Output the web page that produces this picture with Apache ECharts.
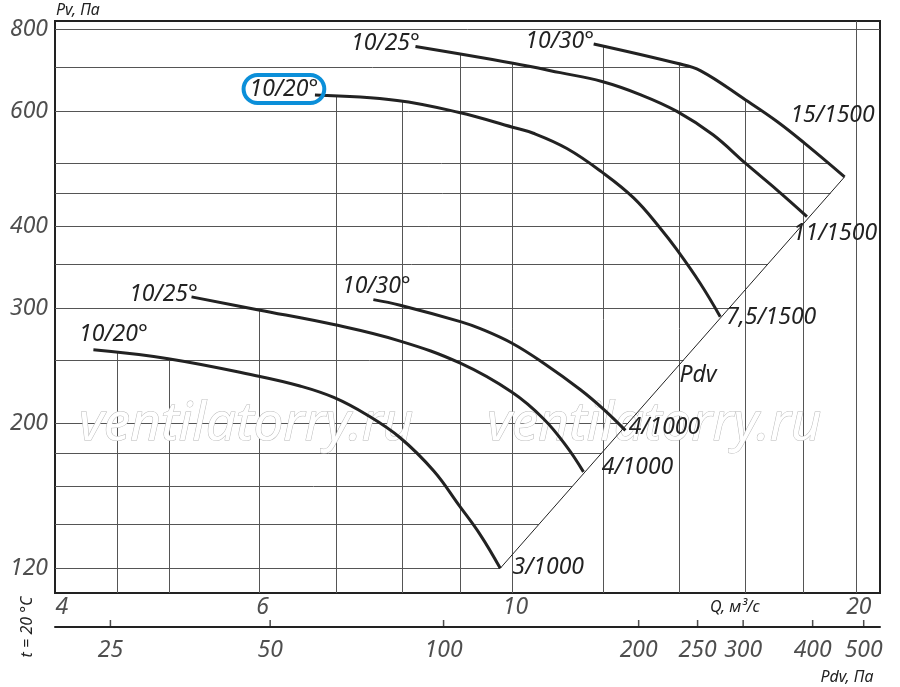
<!DOCTYPE html>
<html lang="ru">
<head>
    <meta charset="UTF-8">
    <title>Pv - Q</title>
    <script src="https://cdn.jsdelivr.net/npm/echarts@6/dist/echarts.min.js"></script>
    <style>
        html, body { margin: 0; padding: 0; background: #fff; }
        #chart { width: 900px; height: 687px; }
    </style>
</head>
<body>
<div id="chart"></div>
<script type="text/javascript">
    // пределы осей
    var qMin = 3.97, qMax = 21, pvMin = 110, pvMax = 824;

    // подписи осей и сетка
    var qTicks = [4, 6, 10, 20];
    var pvTicks = [120, 200, 300, 400, 600, 800];
    var qGrid = [4.5, 5, 6, 7, 8, 9, 10, 12, 14, 16, 18, 20];
    var pvGrid = [120, 140, 160, 180, 200, 250, 300, 350, 400, 450, 500, 600, 700, 800];

    // нижняя шкала Pdv, Па и место каждой отметки по Q
    var pdvTicks = [25, 50, 100, 200, 250, 300, 400, 500];
    var pdvTickQ = [4.44, 6.13, 8.70, 12.90, 14.53, 15.93, 18.33, 20.32];

    // верхние кривые (1500 об/мин)
    var qUp20 = [6.71, 7.92, 8.98, 10.0, 10.43, 11.16, 11.98, 12.77, 13.48, 13.94, 14.61, 15.21];
    var pvUp20 = [635, 623, 597, 567, 555, 526, 484, 442, 397, 368, 327, 291];
    var qUp25 = [8.22, 10.01, 11.01, 11.98, 12.94, 13.95, 14.99, 16.01, 17.07, 18.12];
    var pvUp25 = [753, 710, 687, 666, 636, 599, 552, 499, 454, 414];
    var qUp30 = [11.78, 13.94, 14.61, 16.01, 17.07, 18.03, 19.55];
    var pvUp30 = [760, 710, 692, 624, 578, 536, 476];

    // нижние кривые (1000 об/мин)
    var qLo20 = [4.29, 4.99, 5.99, 6.51, 6.97, 7.45, 7.97, 8.53, 8.97, 9.37, 9.755];
    var pvLo20 = [259, 251, 236, 228, 219, 206, 190, 169, 150, 135, 120];
    var qLo25 = [5.23, 5.99, 6.97, 7.97, 9.0, 9.99, 10.65, 11.16, 11.54];
    var pvLo25 = [312, 298, 283, 267, 247, 223, 203, 184, 168.5];
    var qLo30 = [7.55, 7.97, 9.0, 9.37, 9.99, 10.65, 11.47, 12.02, 12.56];
    var pvLo30 = [309, 303, 286, 279, 265, 247, 225, 210, 195];

    // линия Pdv
    var qPdv = [9.755, 19.55];
    var pvPdv = [120, 476];

    // подписи кривых
    var angleUp = ['10/20°', '10/25°', '10/30°'];
    var motorUp = ['7,5/1500', '11/1500', '15/1500'];
    var angleLo = ['10/20°', '10/25°', '10/30°'];
    var motorLo = ['3/1000', '4/1000', '4/1000'];

    var FONT = 'Noto Sans';
    var INK = '#222';

    function lg(v) {
        return Math.log(v) / Math.LN10;
    }

    // Pv на кривой при данном Q (интерполяция в логарифмах)
    function pvAt(qs, pvs, q) {
        for (var i = 0; i < qs.length - 1; i++) {
            if (q >= qs[i] && q <= qs[i + 1]) {
                var t = (lg(q) - lg(qs[i])) / (lg(qs[i + 1]) - lg(qs[i]));
                return Math.pow(10, lg(pvs[i]) + t * (lg(pvs[i + 1]) - lg(pvs[i])));
            }
        }
        return null;
    }

    // Q на кривой при данном Pv
    function qAt(qs, pvs, pv) {
        for (var i = 0; i < qs.length - 1; i++) {
            var a = pvs[i], b = pvs[i + 1];
            if ((pv <= a && pv >= b) || (pv >= a && pv <= b)) {
                var t = (lg(pv) - lg(a)) / (lg(b) - lg(a));
                return Math.pow(10, lg(qs[i]) + t * (lg(qs[i + 1]) - lg(qs[i])));
            }
        }
        return null;
    }

    var allCurves = [
        [qUp20, pvUp20], [qUp25, pvUp25], [qUp30, pvUp30],
        [qLo20, pvLo20], [qLo25, pvLo25], [qLo30, pvLo30],
        [qPdv, pvPdv]
    ];

    // сетка: горизонтали до правой границы кривых, вертикали до верхней
    var gridLines = [];
    pvGrid.forEach(function (v) {
        var right = null;
        allCurves.forEach(function (c) {
            var h = qAt(c[0], c[1], v);
            if (h !== null && (right === null || h > right)) right = h;
        });
        gridLines.push({coords: [[qMin, v], [right === null ? qMax : right, v]]});
    });
    qGrid.forEach(function (q) {
        var top = null;
        allCurves.forEach(function (c) {
            var h = pvAt(c[0], c[1], q);
            if (h !== null && (top === null || h > top)) top = h;
        });
        gridLines.push({coords: [[q, pvMin], [q, top === null ? pvMax : top]]});
    });

    var baseLabel = {
        show: true,
        position: 'inside',
        color: INK,
        fontFamily: FONT,
        fontStyle: 'italic',
        fontSize: 23
    };

    function curve(qs, pvs, startText, startOff, endText, endOff, boxed) {
        var data = qs.map(function (q, i) {
            var item = {value: [q, pvs[i]]};
            if (i === 0) {
                item.label = Object.assign({}, baseLabel, {formatter: startText, offset: startOff});
                if (boxed) {
                    Object.assign(item.label, {
                        borderColor: '#0b8fd9',
                        borderWidth: 4,
                        borderRadius: 16,
                        padding: [3, 6, 1, 6],
                        lineHeight: 24
                    });
                }
            }
            if (i === qs.length - 1) {
                item.label = Object.assign({}, baseLabel, {formatter: endText, offset: endOff});
            }
            return item;
        });
        return {
            type: 'line',
            xAxisIndex: 0,
            yAxisIndex: 0,
            data: data,
            smooth: 0.4,
            symbol: 'circle',
            symbolSize: 0,
            showSymbol: true,
            clip: false,
            lineStyle: {color: INK, width: 3},
            itemStyle: {color: INK},
            label: {show: false},
            silent: true,
            z: 5
        };
    }

    var chart = echarts.init(document.getElementById('chart'));

    var markFont = 'italic 53px "Noto Sans"';

    var option = {
        animation: false,
        grid: [
            {left: 55, right: 20, top: 21, bottom: 94, show: true, borderColor: INK, borderWidth: 2, backgroundColor: '#fff'},
            {left: 55, right: 20, top: 617, height: 10}
        ],
        xAxis: [
            {
                type: 'log', logBase: 10, gridIndex: 0, min: qMin, max: qMax,
                axisLine: {show: false}, axisTick: {show: false}, axisLabel: {show: false}, splitLine: {show: false}
            },
            {
                type: 'log', logBase: 10, gridIndex: 1, min: qMin, max: qMax,
                axisLine: {show: true, lineStyle: {color: INK, width: 2}},
                axisTick: {show: false}, axisLabel: {show: false}, splitLine: {show: false}
            }
        ],
        yAxis: [
            {
                type: 'log', logBase: 10, gridIndex: 0, min: pvMin, max: pvMax,
                axisLine: {show: false}, axisTick: {show: false}, axisLabel: {show: false}, splitLine: {show: false}
            },
            {type: 'value', gridIndex: 1, min: 0, max: 1, show: false}
        ],
        graphic: [
            {
                type: 'text', x: 79, y: 425, z: 3, silent: true,
                style: {text: 'ventilatorry.ru', font: markFont, fill: '#fff', stroke: '#b8b8b8', lineWidth: 1, textVerticalAlign: 'middle'}
            },
            {
                type: 'text', x: 487, y: 425, z: 3, silent: true,
                style: {text: 'ventilatorry.ru', font: markFont, fill: '#fff', stroke: '#b8b8b8', lineWidth: 1, textVerticalAlign: 'middle'}
            },
            {
                type: 'text', x: 56, y: 10, z: 10,
                style: {text: 'Pv, Па', font: 'italic 16px "Noto Sans"', fill: INK, textVerticalAlign: 'middle'}
            },
            {
                type: 'text', x: 735, y: 607, z: 10,
                style: {text: 'Q, м³/с', font: 'italic 16px "Noto Sans"', fill: INK, textAlign: 'center', textVerticalAlign: 'middle'}
            },
            {
                type: 'text', x: 847, y: 677, z: 10,
                style: {text: 'Pdv, Па', font: 'italic 16px "Noto Sans"', fill: INK, textAlign: 'center', textVerticalAlign: 'middle'}
            },
            {
                type: 'text', x: 27, y: 627, rotation: Math.PI / 2, z: 10,
                style: {text: 't = 20 °C', font: 'italic 16px "Noto Sans"', fill: INK, textAlign: 'center', textVerticalAlign: 'middle'}
            },
            {
                type: 'text', x: 698, y: 375, z: 10,
                style: {text: 'Pdv', font: 'italic 23px "Noto Sans"', fill: INK, textAlign: 'center', textVerticalAlign: 'middle'}
            }
        ],
        series: [
            // сетка
            {
                type: 'lines',
                coordinateSystem: 'cartesian2d',
                xAxisIndex: 0,
                yAxisIndex: 0,
                data: gridLines,
                silent: true,
                lineStyle: {color: '#555', width: 1, opacity: 1, curveness: 0},
                z: 1
            },
            // линия Pdv
            {
                type: 'line',
                xAxisIndex: 0,
                yAxisIndex: 0,
                data: qPdv.map(function (q, i) { return [q, pvPdv[i]]; }),
                showSymbol: false,
                lineStyle: {color: INK, width: 1},
                silent: true,
                z: 4
            },
            curve(qUp20, pvUp20, angleUp[0], [-31, -6], motorUp[0], [51, 1], true),
            curve(qUp25, pvUp25, angleUp[1], [-30, -3], motorUp[1], [28, 17]),
            curve(qUp30, pvUp30, angleUp[2], [-34, -3], motorUp[2], [-12, -61]),
            curve(qLo20, pvLo20, angleLo[0], [20, -15], motorLo[0], [48, -1]),
            curve(qLo25, pvLo25, angleLo[1], [-28, -2], motorLo[1], [54, -4]),
            curve(qLo30, pvLo30, angleLo[2], [3, -13], motorLo[2], [39, -3]),
            // подписи оси Q
            {
                type: 'scatter',
                xAxisIndex: 0,
                yAxisIndex: 0,
                clip: false,
                symbolSize: 0,
                silent: true,
                data: qTicks.map(function (q) { return [q, pvMin]; }),
                label: Object.assign({}, baseLabel, {
                    offset: [3, 14],
                    formatter: function (p) { return String(p.value[0]); }
                })
            },
            // подписи оси Pv
            {
                type: 'scatter',
                xAxisIndex: 0,
                yAxisIndex: 0,
                clip: false,
                symbolSize: 0,
                silent: true,
                data: pvTicks.map(function (v) { return [qMin, v]; }),
                label: Object.assign({}, baseLabel, {
                    position: 'left',
                    distance: 7,
                    formatter: function (p) { return String(p.value[1]); }
                })
            },
            // шкала Pdv: отметки
            {
                type: 'scatter',
                xAxisIndex: 1,
                yAxisIndex: 1,
                clip: false,
                silent: true,
                symbol: 'rect',
                symbolSize: [1.5, 7],
                symbolOffset: [0, -3.5],
                itemStyle: {color: INK},
                data: pdvTickQ.map(function (q) { return [q, 0]; })
            },
            // шкала Pdv: подписи
            {
                type: 'scatter',
                xAxisIndex: 1,
                yAxisIndex: 1,
                clip: false,
                silent: true,
                symbolSize: 0,
                data: pdvTickQ.map(function (q, i) { return [q, 0, pdvTicks[i]]; }),
                label: Object.assign({}, baseLabel, {
                    offset: [0, 23],
                    formatter: function (p) { return String(p.value[2]); }
                })
            }
        ]
    };

    chart.setOption(option);
</script>
</body>
</html>
